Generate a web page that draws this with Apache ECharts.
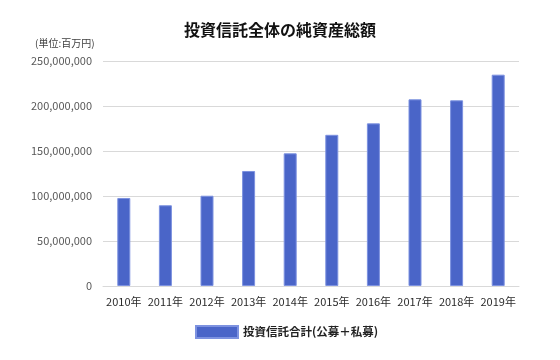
<!DOCTYPE html>
<html><head><meta charset="utf-8">
<script src="https://cdn.jsdelivr.net/npm/echarts@6/dist/echarts.min.js"></script>
<style>html,body{margin:0;padding:0;background:#fff}#c{width:560px;height:360px}</style>
</head><body><div id="c"></div>
<script>
const categories = ['2010年','2011年','2012年','2013年','2014年','2015年','2016年','2017年','2018年','2019年'];
const values = [97800000, 89700000, 100300000, 127800000, 147400000, 168000000, 180700000, 207400000, 206300000, 234800000];
const seriesName = '投資信託合計(公募＋私募)';
const titleText = '投資信託全体の純資産総額';
const unitText = '(単位:百万円)';
const font = '"Noto Sans CJK JP", "Noto Sans", sans-serif';

const chart = echarts.init(document.getElementById('c'));
chart.setOption({
  animation: false,
  textStyle: { fontFamily: font },
  title: {
    text: titleText, left: 'center', top: 17,
    textStyle: { fontSize: 16, fontWeight: 'bold', color: '#111', fontFamily: font }
  },
  graphic: [{
    type: 'text', left: 35, top: 38,
    style: { text: unitText, fontSize: 10, fill: '#404040', fontFamily: font }
  }],
  legend: {
    bottom: 16, left: 190, itemWidth: 42, itemHeight: 12, itemGap: 11,
    icon: 'rect',
    textStyle: { fontSize: 11.5, fontWeight: 'bold', color: '#222', fontFamily: font },
    data: [seriesName]
  },
  grid: { left: 103, right: 41, top: 61, bottom: 74 },
  xAxis: {
    type: 'category', data: categories,
    axisLine: { lineStyle: { color: '#d9d9d9', width: 1 } },
    axisTick: { show: false },
    axisLabel: { interval: 0, fontSize: 11, color: '#2b2b2b', margin: 10, fontFamily: font }
  },
  yAxis: {
    type: 'value', min: 0, max: 250000000, interval: 50000000,
    axisLine: { show: false }, axisTick: { show: false },
    splitLine: { lineStyle: { color: '#d9d9d9', width: 1 } },
    axisLabel: {
      fontSize: 11, color: '#595959', margin: 11, fontFamily: font,
      formatter: v => v.toLocaleString('en-US')
    }
  },
  series: [{
    name: seriesName, type: 'bar', data: values, barWidth: 13,
    itemStyle: { color: '#4a65c8', borderColor: '#7d92e0', borderWidth: 1 }
  }]
});
</script></body></html>
